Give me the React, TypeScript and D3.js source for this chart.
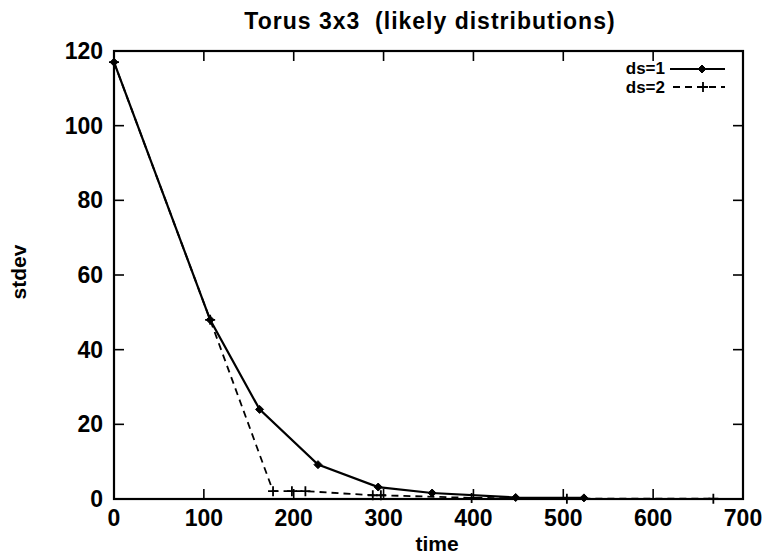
import React from "react";
import * as d3 from "d3";

const title = "Torus 3x3  (likely distributions)";
const xTicks = [0, 100, 200, 300, 400, 500, 600, 700];
const yTicks = [0, 20, 40, 60, 80, 100, 120];
const ds1Time = [0, 107, 162, 227, 294, 354, 447, 523];
const ds1Stdev = [117, 48, 24, 9.2, 3.2, 1.6, 0.4, 0.3];
const ds2Time = [0, 107, 177, 198, 213, 288, 297, 398, 504, 667];
const ds2Stdev = [117, 48, 2.1, 2.1, 2.1, 1.0, 1.0, 0.3, 0.1, 0.1];

const W = 772, H = 555;
const L = 114, R = 743, T = 51, B = 499;

export default function App() {
  const x = d3.scaleLinear().domain([0, 700]).range([L, R]);
  const y = d3.scaleLinear().domain([0, 120]).range([B, T]);
  const line = d3.line<[number, number]>().x(d => x(d[0])).y(d => y(d[1]));
  const s1: [number, number][] = ds1Time.map((t, i) => [t, ds1Stdev[i]]);
  const s2: [number, number][] = ds2Time.map((t, i) => [t, ds2Stdev[i]]);
  const font = "'Liberation Sans', Arial, sans-serif";
  const diamond = (cx: number, cy: number, k: string) => (
    <path key={k} d={`M${cx},${cy - 4}L${cx + 4},${cy}L${cx},${cy + 4}L${cx - 4},${cy}Z`} fill="#000" stroke="#000" strokeWidth={1} />
  );
  const plus = (cx: number, cy: number, k: string) => (
    <path key={k} d={`M${cx - 5},${cy}H${cx + 5}M${cx},${cy - 5}V${cy + 5}`} stroke="#000" strokeWidth={1.8} />
  );
  return (
    <svg width={W} height={H} style={{ position: "absolute", left: 0, top: 0, background: "#fff" }} fontFamily={font}>
      <rect x={0} y={0} width={W} height={H} fill="#fff" />
      <text x={430} y={29} textAnchor="middle" fontSize={23} fontWeight="bold" letterSpacing={1} style={{ whiteSpace: "pre" }}>{title}</text>
      {/* frame */}
      <rect x={L} y={T} width={R - L} height={B - T} fill="none" stroke="#000" strokeWidth={2.2} />
      {/* ticks */}
      {xTicks.slice(1, -1).map(t => (
        <g key={"xt" + t}>
          <line x1={x(t)} x2={x(t)} y1={B} y2={B - 10} stroke="#000" strokeWidth={1.6} />
          <line x1={x(t)} x2={x(t)} y1={T} y2={T + 10} stroke="#000" strokeWidth={1.6} />
        </g>
      ))}
      {yTicks.slice(1, -1).map(t => (
        <g key={"yt" + t}>
          <line x1={L} x2={L + 10} y1={y(t)} y2={y(t)} stroke="#000" strokeWidth={1.6} />
          <line x1={R} x2={R - 10} y1={y(t)} y2={y(t)} stroke="#000" strokeWidth={1.6} />
        </g>
      ))}
      {xTicks.map(t => (
        <text key={"xl" + t} x={x(t)} y={526} textAnchor="middle" fontSize={23} fontWeight="bold">{t}</text>
      ))}
      {yTicks.map(t => (
        <text key={"yl" + t} x={103} y={y(t) + 8} textAnchor="end" fontSize={23} fontWeight="bold">{t}</text>
      ))}
      <text x={437} y={551} textAnchor="middle" fontSize={21} fontWeight="bold">time</text>
      <text transform={`translate(26,272) rotate(-90)`} textAnchor="middle" fontSize={21} fontWeight="bold">stdev</text>
      {/* series */}
      <path d={line(s2) || ""} fill="none" stroke="#000" strokeWidth={1.8} strokeDasharray="7,5" />
      <path d={line(s1) || ""} fill="none" stroke="#000" strokeWidth={2.2} />
      {s2.map((d, i) => plus(x(d[0]), y(d[1]), "p" + i))}
      {s1.map((d, i) => diamond(x(d[0]), y(d[1]), "d" + i))}
      {/* legend */}
      <text x={665} y={74} textAnchor="end" fontSize={17} fontWeight="bold">ds=1</text>
      <line x1={670} x2={725} y1={69} y2={69} stroke="#000" strokeWidth={2.2} />
      {diamond(702, 69, "ld")}
      <text x={665} y={93} textAnchor="end" fontSize={17} fontWeight="bold">ds=2</text>
      <line x1={673} x2={725} y1={87} y2={87} stroke="#000" strokeWidth={1.8} strokeDasharray="7,5" />
      {plus(703, 87, "lp")}
    </svg>
  );
}
